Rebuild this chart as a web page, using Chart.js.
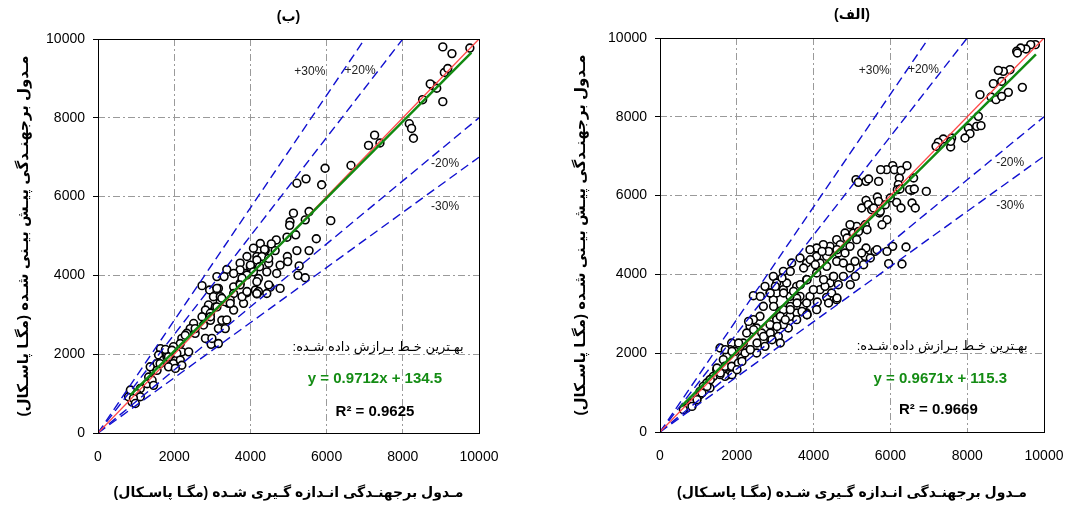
<!DOCTYPE html>
<html lang="fa">
<head>
<meta charset="UTF-8">
<title>مدول برجهندگی</title>
<script src="https://cdn.jsdelivr.net/npm/chart.js"></script>
<style>
  body { margin: 0; background: #fff; }
  .wrap { position: relative; width: 1086px; height: 507px; }
  canvas { position: absolute; top: 0; }
  #chartB { left: 0; }
  #chartA { left: 543px; }
</style>
</head>
<body>
<div class="wrap">
  <canvas id="chartB" width="543" height="507"></canvas>
  <canvas id="chartA" width="543" height="507"></canvas>
</div>
<script>
// axis ticks
const tickValues = [0, 2000, 4000, 6000, 8000, 10000];

// reference lines (1:1 and +/- bands)
const oneX = [0, 10000], oneY = [0, 10000];
const plus30X = [0, 7000], plus30Y = [0, 10000];
const plus20X = [0, 8000], plus20Y = [0, 10000];
const minus20X = [0, 10000], minus20Y = [0, 8000];
const minus30X = [0, 10000], minus30Y = [0, 7000];

// fitted lines, end points
const fitBX = [850, 9800], fitBY = [960, 9652];
const fitAX = [540, 9790], fitAY = [637, 9583];

// (ب) measured / predicted
const measuredB = [9760, 9050, 9290, 9090, 9180, 8790, 8890, 8720, 8520, 9050, 8170, 8230, 8280, 7260, 7100, 7400,
  6640, 5960, 5870, 5220, 5460, 5130, 5540, 5440, 6110, 5040, 5030, 4960, 5190, 5730, 4680, 4970, 4980, 5220, 5540,
  5280, 5250, 5440, 4520, 4260, 4390, 4080, 4170, 3910, 3730, 4480, 4430, 4210, 4170, 4130, 4170, 3910, 3120, 3380,
  2730, 2930, 3160, 3030, 3210, 3430, 2900, 2820, 2730, 2950, 3250, 3160, 2820, 2970, 3560, 3560, 3470, 3730, 3860,
  4000, 3730, 2510, 2420, 2330, 2550, 2200, 2290, 2160, 1980, 2200, 1980, 1850, 1770, 1640, 1590, 1550, 1460, 1370,
  1330, 1290, 1110, 980, 890, 800, 850, 1020, 1420, 1720, 1900, 2070, 1810,
  4550, 4370, 4650, 4300, 4480, 4170, 4000, 4240, 4080, 3910, 3780, 3730, 3560, 3310, 3120, 3210, 3340, 3080, 2950,
  3560, 3820, 4210, 4430, 4480, 4690, 4780, 4780,
  1770, 1940, 1850, 1630, 1550, 2160, 2200, 2030, 2380, 1460, 1110, 930, 980, 2550, 2770, 2990, 3160, 3340, 3380,
  2950, 3120, 3250, 3470, 3780, 3910, 4170];
const predictedB = [9770, 9800, 9630, 9150, 9250, 8810, 8750, 8860, 8460, 8410, 7850, 7730, 7480, 7560, 7300, 7360,
  6790, 6720, 6300, 6340, 6450, 5580, 5620, 5410, 5390, 5360, 5270, 4970, 5030, 4930, 4900, 4480, 4350, 4630, 4630,
  4240, 4000, 3940, 3700, 4810, 4640, 4690, 4480, 4480, 4310, 4310, 4090, 3920, 3840, 3630, 3530, 3560, 3970, 4150,
  3740, 3630, 3670, 3460, 3330, 3290, 3250, 3120, 2950, 2860, 2860, 2650, 2400, 2250, 3710, 3540, 3370, 3800, 4050,
  4220, 4140, 2780, 2650, 2530, 2530, 2400, 2480, 2270, 2190, 2060, 1760, 1680, 2100, 2140, 1980, 1760, 1590, 1680,
  1420, 1250, 1130, 920, 790, 920, 1090, 1000, 1340, 1850, 1980, 2020, 1930,
  4800, 4660, 4630, 4480, 4430, 4390, 4260, 4220, 4090, 4010, 3930, 3760, 4050, 3970, 3670, 3460, 3330, 3200, 3040,
  3120, 3290, 3590, 3540, 3760, 4050, 3670, 4260,
  2120, 2100, 1930, 1760, 1590, 1850, 1720, 1640, 2060, 1210, 920, 880, 750, 2650, 2740, 2400, 2270, 2650, 2870,
  2950, 3200, 3420, 3290, 3460, 3590, 3540];

// (الف) measured / predicted
const measuredA = [9774, 9653, 9531, 9392, 9288, 9306, 9115, 8941, 8811, 9436, 9071, 8898, 8681, 8620, 8750, 8898,
  8333, 8290, 8247, 8359, 8030, 8073, 7943, 7595, 7569, 7569, 7378, 7248, 7188, 6059, 5903, 5747, 6233, 6207, 6181,
  6250, 6554, 6163, 6276, 5365, 5104, 5165, 5365, 5660, 5252, 5425, 5512, 5712, 6059, 5955, 5599, 5365, 5339, 5078,
  4948, 4774, 4644, 4340, 4097, 5035, 5122, 4948, 4818, 4601, 4427, 4253, 4080, 3906, 3646, 3429, 3212, 2951, 2734,
  2431, 2691, 2951, 3212, 3559, 3819, 4080, 4340, 4601, 4774, 4948, 5122, 5252, 3559, 3385, 3125, 3733, 3906, 4167,
  4427, 4514, 4297, 3993, 3646, 3429, 3212, 3038, 2865, 2951, 2691, 2517, 2344, 2257, 2170, 2344, 2083, 1866, 1953,
  1736, 1563, 1649, 1693, 1866, 1780, 1693, 1476, 1302, 1215, 1128, 1042, 955, 825, 694, 608, 2127, 2517, 2734, 3082,
  3342, 3559, 3819, 4080, 3559, 3819, 4601, 4470, 4644, 4818, 4340, 4167, 4080, 3819, 3038, 2865, 3038, 2604, 2431,
  2648, 3212, 3385, 3299, 3038, 2040, 1389, 1563, 2214, 1823, 1042, 1302,
  5432, 5693, 6102, 6276, 6432, 6604, 6500, 6622, 6935, 6563, 6648, 5693, 5867, 5997, 5563, 5737, 5911, 5781, 5346,
  5391, 5172, 4870, 4695, 4609, 4391, 4219, 3914, 4044, 3740, 3393, 3177, 3003, 3219, 3479, 3654, 3828, 4260, 4521,
  4956, 4391, 4609, 5086, 5302, 5477, 5651, 5911, 6302, 6406, 3698, 3393, 3133, 2958, 3828,
  2612, 2872, 2047, 1701, 1875, 1484, 1570, 1310, 1224, 1094, 964, 833, 1875, 2005, 2135, 2352, 2526, 2698, 2872,
  3047, 3263, 3393, 3568, 3828, 2917, 3133, 2438, 2307];
const predictedA = [9831, 9831, 9721, 9746, 9662, 9619, 9196, 9154, 9179, 8748, 8621, 8900, 8841, 8503, 8435, 8519,
  8562, 8012, 7758, 7775, 7716, 7572, 7462, 7462, 7234, 7377, 7437, 7352, 7250, 6760, 6658, 6658, 6447, 6277, 6151,
  6168, 6134, 5829, 5685, 6362, 6404, 6337, 5880, 5964, 5685, 5770, 5643, 5558, 4712, 4272, 4585, 4670, 4459, 4332,
  4162, 3951, 3739, 3418, 3299, 5051, 5220, 5262, 5051, 4882, 4712, 4755, 4670, 4628, 4416, 4289, 4078, 3951, 3697,
  3460, 3190, 3359, 3613, 3697, 3866, 4036, 4205, 4332, 4289, 4712, 4882, 4543, 3020, 2936, 3063, 3190, 3443, 3613,
  3782, 3951, 3697, 3613, 3443, 3274, 3105, 2893, 2724, 2513, 2301, 2640, 2682, 2513, 2259, 2090, 2174, 2259, 2047,
  1920, 2132, 1836, 1667, 1667, 1455, 1413, 1582, 1328, 1244, 1159, 1032, 821, 736, 609, 567, 1878, 2005, 2174, 2428,
  2640, 2851, 3020, 3105, 3401, 3274, 3359, 3528, 4543, 4543, 4459, 4289, 4459, 4289, 3782, 3528, 3528, 2936, 2851,
  2513, 2724, 3443, 3782, 2851, 1751, 1413, 1455, 2005, 2090, 948, 1117,
  6421, 6360, 6657, 6640, 6759, 6447, 6150, 6167, 6107, 5812, 5685, 5853, 5769, 5939, 5685, 5600, 5388, 5261, 5261,
  5135, 5091, 4924, 4754, 4627, 4584, 4584, 4373, 4246, 4162, 4076, 3909, 3696, 3528, 3569, 3739, 3866, 3866, 3949,
  3739, 3274, 3401, 3949, 4246, 4416, 4627, 4584, 4264, 4695, 3061, 3188, 2934, 3188, 2977,
  3442, 3528, 2259, 2089, 2046, 1624, 1497, 1327, 1157, 990, 820, 650, 1454, 1581, 1792, 2089, 2259, 2426, 2513,
  2680, 2850, 3104, 3274, 2977, 2343, 2259, 2596, 2807];

const sans = "'Liberation Sans', Arial, 'DejaVu Sans', sans-serif";
const titleX = 'مـدول برجهنـدگی انـدازه گـیری شـده (مگـا پاسـکال)';
const titleY = 'مـدول برجهنـدگی پیـش بیـنی شـده (مگـا پاسـکال)';
const fitNote = 'بهـترین خـط بـرازش داده شـده:';

function zip(xs, ys) {
  return xs.map((v, i) => ({ x: v, y: ys[i] }));
}

function drawText(ctx, s, px, py, font, color, rtl) {
  ctx.font = font;
  ctx.fillStyle = color;
  ctx.textAlign = 'center';
  ctx.textBaseline = 'middle';
  ctx.direction = rtl ? 'rtl' : 'ltr';
  ctx.fillText(s, px, py);
}

// frame, titles and notes
const decor = {
  id: 'decor',
  afterDraw(chart, args, o) {
    const { ctx, chartArea: a, scales: { x, y } } = chart;
    const cx = (a.left + a.right) / 2;
    ctx.save();
    ctx.strokeStyle = '#000';
    ctx.lineWidth = 1;
    ctx.setLineDash([]);
    ctx.strokeRect(Math.round(a.left) + 0.5, Math.round(a.top) + 0.5, Math.round(a.right - a.left), Math.round(a.bottom - a.top));

    drawText(ctx, o.title, cx, o.titleY, 'bold 14px ' + sans, '#000', true);
    drawText(ctx, titleX, cx, 493, 'bold 14px ' + sans, '#000', true);

    ctx.save();
    ctx.translate(o.yTitleX, (a.top + a.bottom) / 2);
    ctx.rotate(-Math.PI / 2);
    drawText(ctx, titleY, 0, 0, 'bold 15px ' + sans, '#000', true);
    ctx.restore();

    o.bands.forEach(b => drawText(ctx, b[0], x.getPixelForValue(b[1]), y.getPixelForValue(b[2]), '12px ' + sans, '#222', false));
    drawText(ctx, fitNote, x.getPixelForValue(o.note[0]), y.getPixelForValue(o.note[1]), '13px ' + sans, '#000', true);
    drawText(ctx, o.eq, x.getPixelForValue(o.eqPos[0]), y.getPixelForValue(o.eqPos[1]), 'bold 15px ' + sans, '#148c14', false);
    drawText(ctx, o.r2, x.getPixelForValue(o.r2Pos[0]), y.getPixelForValue(o.r2Pos[1]), 'bold 15px ' + sans, '#000', false);
    ctx.restore();
  }
};

function lineSet(xs, ys, color, width, dash, order) {
  return {
    data: zip(xs, ys), showLine: true, pointRadius: 0, borderColor: color,
    borderWidth: width, borderDash: dash, fill: false, order: order
  };
}

function makeChart(id, c) {
  return new Chart(document.getElementById(id), {
    type: 'scatter',
    data: {
      datasets: [
        lineSet(c.fitX, c.fitY, '#118a11', 2.4, [], 0),
        lineSet(oneX, oneY, '#ff4a4a', 1.3, [], 1),
        lineSet(plus30X, plus30Y, '#1010d0', 1.4, [9, 5], 2),
        lineSet(plus20X, plus20Y, '#1010d0', 1.4, [9, 5], 2),
        lineSet(minus20X, minus20Y, '#1010d0', 1.4, [9, 5], 2),
        lineSet(minus30X, minus30Y, '#1010d0', 1.4, [9, 5], 2),
        {
          data: zip(c.px, c.py), pointRadius: 3.9, pointBorderWidth: 1.6,
          pointBorderColor: '#000', pointBackgroundColor: '#fff', order: 5
        }
      ]
    },
    options: {
      responsive: false,
      animation: false,
      events: [],
      layout: { padding: { left: 0, right: c.padRight, top: c.padTop, bottom: 0 } },
      plugins: { legend: { display: false }, tooltip: { enabled: false }, decor: c.decor },
      scales: {
        x: {
          type: 'linear', min: 0, max: 10000,
          afterBuildTicks: s => { s.ticks = tickValues.map(v => ({ value: v })); },
          afterFit: s => { s.height = c.xHeight; },
          grid: { color: '#9a9a9a', lineWidth: 1, drawTicks: false },
          border: { display: false, dash: [7, 3, 2, 3] },
          ticks: { padding: 16, color: '#000', font: { family: sans, size: 14 }, callback: v => String(v) }
        },
        y: {
          type: 'linear', min: 0, max: 10000,
          afterBuildTicks: s => { s.ticks = tickValues.map(v => ({ value: v })); },
          afterFit: s => { s.width = c.yWidth; },
          grid: { color: '#9a9a9a', lineWidth: 1, drawTicks: true, tickLength: 5, tickColor: '#000' },
          border: { display: false, dash: [7, 3, 2, 3] },
          ticks: { padding: 8, color: '#000', font: { family: sans, size: 14 }, callback: v => String(v) }
        }
      }
    },
    plugins: [decor]
  });
}

makeChart('chartB', {
  px: measuredB, py: predictedB, fitX: fitBX, fitY: fitBY,
  padRight: 64, padTop: 39, yWidth: 98, xHeight: 74,
  decor: {
    title: '(ب)', titleY: 17, yTitleX: 24,
    bands: [['+30%', 5560, 9170], ['+20%', 6880, 9190], ['-20%', 9110, 6830], ['-30%', 9110, 5740]],
    note: [7350, 2160], eq: 'y = 0.9712x + 134.5', eqPos: [7270, 1370], r2: 'R² = 0.9625', r2Pos: [7270, 530]
  }
});

makeChart('chartA', {
  px: measuredA, py: predictedA, fitX: fitAX, fitY: fitAY,
  padRight: 42, padTop: 38, yWidth: 117, xHeight: 75,
  decor: {
    title: '(الف)', titleY: 15, yTitleX: 38,
    bands: [['+30%', 5580, 9170], ['+20%', 6860, 9195], ['-20%', 9120, 6835], ['-30%', 9120, 5745]],
    note: [7350, 2165], eq: 'y = 0.9671x + 115.3', eqPos: [7300, 1350], r2: 'R² = 0.9669', r2Pos: [7250, 565]
  }
});
</script>
</body>
</html>
